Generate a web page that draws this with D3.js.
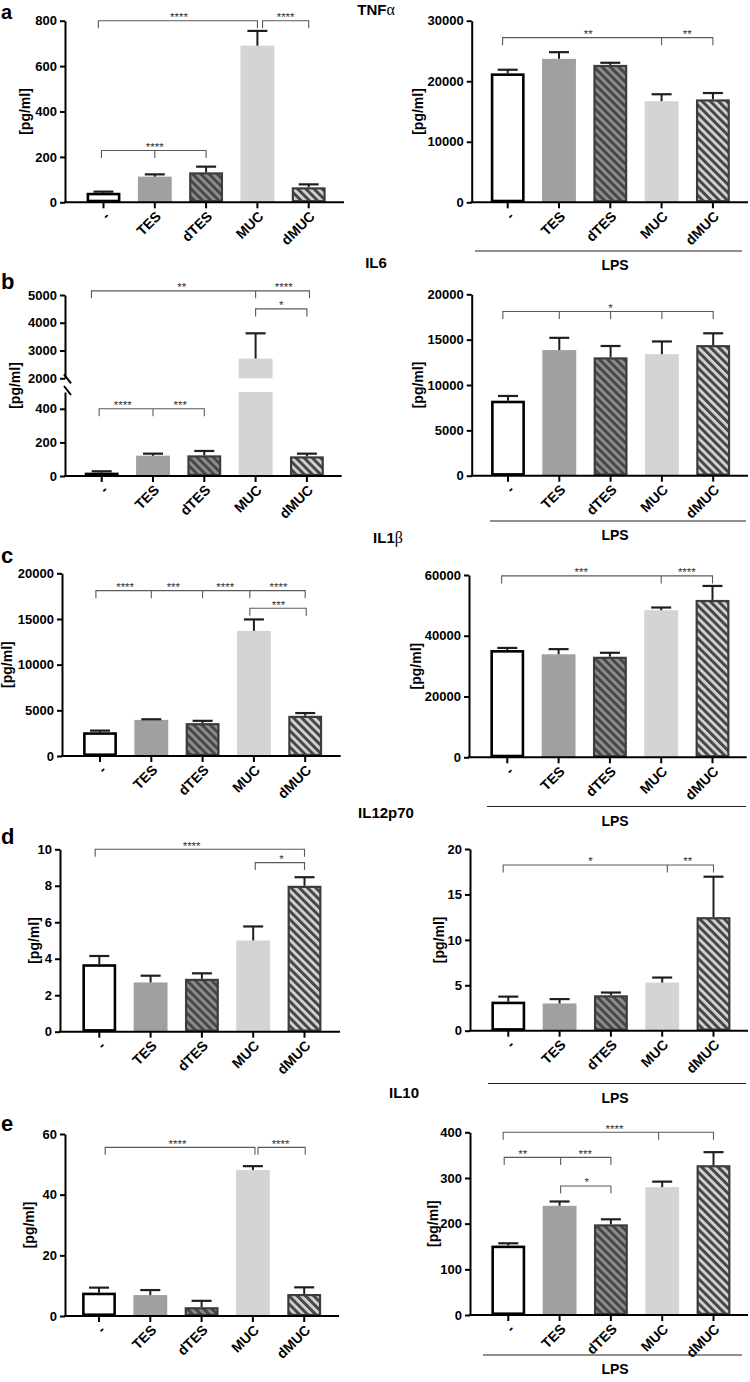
<!DOCTYPE html>
<html><head><meta charset="utf-8">
<script src="https://cdn.jsdelivr.net/npm/d3@7"></script>
<style>
body{margin:0;background:#fff}
svg{display:block}
text{font-family:"Liberation Sans",Arial,sans-serif}
</style>
</head><body>
<script>
// ---------------- DATA ----------------
const categories = ["-", "TES", "dTES", "MUC", "dMUC"];

// TNFα
const tnfUnstim = [42, 113, 132, 690, 66];
const tnfUnstimErr = [5, 10, 25, 65, 13];
const tnfUnstimTicks = [0, 200, 400, 600, 800];
const tnfLps = [21300, 23700, 22700, 16700, 17000];
const tnfLpsErr = [600, 1100, 350, 1150, 1050];
const tnfLpsTicks = [0, 10000, 20000, 30000];

// IL6 (unstimulated panel has a broken axis)
const il6Unstim = [20, 121, 123, 2710, 117];
const il6UnstimErr = [8, 12, 26, 910, 16];
const il6UnstimTicksLow = [0, 200, 400];
const il6UnstimTicksHigh = [2000, 3000, 4000, 5000];
const il6Lps = [8270, 13850, 13050, 13400, 14400];
const il6LpsErr = [520, 1350, 1250, 1400, 1300];
const il6LpsTicks = [0, 5000, 10000, 15000, 20000];

// IL1β
const il1bUnstim = [2600, 3950, 3600, 13700, 4400];
const il1bUnstimErr = [180, 70, 250, 1250, 300];
const il1bUnstimTicks = [0, 5000, 10000, 15000, 20000];
const il1bLps = [35300, 33900, 33100, 48400, 51800];
const il1bLpsErr = [700, 1700, 1300, 900, 4600];
const il1bLpsTicks = [0, 20000, 40000, 60000];

// IL12p70
const il12Unstim = [3.7, 2.7, 2.9, 5.0, 8.0];
const il12UnstimErr = [0.45, 0.37, 0.3, 0.77, 0.47];
const il12UnstimTicks = [0, 2, 4, 6, 8, 10];
const il12Lps = [3.2, 3.0, 3.9, 5.3, 12.5];
const il12LpsErr = [0.55, 0.48, 0.3, 0.55, 4.45];
const il12LpsTicks = [0, 5, 10, 15, 20];

// IL10
const il10Unstim = [7.7, 6.9, 2.9, 48.1, 7.25];
const il10UnstimErr = [1.65, 1.65, 2.1, 1.3, 2.2];
const il10UnstimTicks = [0, 20, 40, 60];
const il10Lps = [152, 239, 198.5, 280, 328];
const il10LpsErr = [5, 9.5, 11, 12, 28.5];
const il10LpsTicks = [0, 100, 200, 300, 400];

// significance brackets: category indices spanned, level (data units), labels [index, text]
const tnfUnstimSig = [
  {pts: [-0.1, 3], level: 800, labels: [[1.47, "****"]]},
  {pts: [3.1, 4], level: 800, labels: [[3.55, "****"]]},
  {pts: [-0.04, 1, 2], level: 228, labels: [[1, "****"]]}
];
const tnfLpsSig = [
  {pts: [-0.1, 3, 4], level: 27200, labels: [[1.57, "**"], [3.5, "**"]]}
];
const il6UnstimSig = [
  {pts: [-0.2, 3, 4.05], level: 5150, labels: [[1.56, "**"], [3.55, "****"]]},
  {pts: [3, 4], level: 4500, labels: [[3.5, "*"]]},
  {pts: [-0.05, 1, 2], level: 400, labels: [[0.41, "****"], [1.53, "***"]]}
];
const il6LpsSig = [
  {pts: [-0.1, 1, 2, 3, 4], level: 18100, labels: [[2, "*"]]}
];
const il1bUnstimSig = [
  {pts: [-0.08, 1, 2, 2.92, 4], level: 18100, labels: [[0.49, "****"], [1.43, "***"], [2.44, "****"], [3.48, "****"]]},
  {pts: [2.92, 4.02], level: 16170, labels: [[3.48, "***"]]}
];
const il1bLpsSig = [
  {pts: [-0.11, 3, 4], level: 59700, labels: [[1.44, "***"], [3.5, "****"]]}
];
const il12UnstimSig = [
  {pts: [-0.08, 4], level: 10, labels: [[1.8, "****"]]},
  {pts: [3.04, 4], level: 9.27, labels: [[3.55, "*"]]}
];
const il12LpsSig = [
  {pts: [-0.1, 3.1, 4], level: 18.24, labels: [[1.6, "*"], [3.5, "**"]]}
];
const il10UnstimSig = [
  {pts: [0.12, 3.04], level: 55.6, labels: [[1.53, "****"]]},
  {pts: [3.1, 4.02], level: 55.6, labels: [[3.54, "****"]]}
];
const il10LpsSig = [
  {pts: [-0.1, 2.93, 4], level: 400, labels: [[2.07, "****"]]},
  {pts: [-0.08, 1.02, 2], level: 345, labels: [[0.28, "**"], [1.5, "***"]]},
  {pts: [1.02, 2], level: 282.5, labels: [[1.53, "*"]]}
];

const yTitle = "[pg/ml]";
const lpsLabel = "LPS";

// ---------------- LAYOUT ----------------
const svg = d3.select("body").append("svg").attr("width", 750).attr("height", 1382);
const defs = svg.append("defs");
function hatch(id, base, stripe) {
  const p = defs.append("pattern").attr("id", id).attr("patternUnits", "userSpaceOnUse")
    .attr("width", 5.8).attr("height", 5.8).attr("patternTransform", "rotate(-45)");
  p.append("rect").attr("width", 5.8).attr("height", 5.8).attr("fill", base);
  p.append("rect").attr("width", 3).attr("height", 5.8).attr("fill", stripe);
}
hatch("hDark", "#8e8e8e", "#474747");
hatch("hLight", "#d4d4d4", "#474747");

const barStyle = [
  {fill: "#ffffff", stroke: "#000", sw: 2.6},
  {fill: "#a0a0a0", stroke: null, sw: 0},
  {fill: "url(#hDark)", stroke: "#3c3c3c", sw: 2.2},
  {fill: "#d4d4d4", stroke: null, sw: 0},
  {fill: "url(#hLight)", stroke: "#3c3c3c", sw: 2.2}
];

const STEP = 51.3;

function drawPanel(p) {
  const g = svg.append("g");
  const x = d3.scaleBand().domain(categories)
    .range([p.c0 - STEP / 2, p.c0 + 4.5 * STEP]).paddingInner(0.34).paddingOuter(0.17);
  const cx = i => x(categories[0]) + x.bandwidth() / 2 + i * x.step();

  const segs = p.segs.map(s => ({
    scale: d3.scaleLinear().domain(s.dom).range(s.rng),
    dom: s.dom, ticks: s.ticks
  }));
  const yv = v => {
    for (const s of segs) if (v <= s.dom[1] + 1e-9 || s === segs[segs.length - 1]) {
      if (v >= s.dom[0] - 1e-9 || s === segs[0]) return s.scale(v);
    }
    return segs[segs.length - 1].scale(v);
  };
  const zeroY = segs[0].scale(0);

  // bars
  categories.forEach((c, i) => {
    const v = p.mean[i], st = barStyle[i];
    segs.forEach(s => {
      if (v <= s.dom[0]) return;
      const top = s.scale(Math.min(v, s.dom[1]));
      const bot = s.scale(s.dom[0]);
      const inset = st.sw / 2;
      g.append("rect")
        .attr("x", x(c) + inset).attr("width", x.bandwidth() - st.sw)
        .attr("y", top + inset).attr("height", Math.max(0, bot - top - st.sw))
        .attr("fill", st.fill)
        .attr("stroke", st.stroke || "none").attr("stroke-width", st.sw);
    });
  });

  // error bars (upper only)
  categories.forEach((c, i) => {
    const v = p.mean[i], e = p.err[i];
    const xc = cx(i);
    const y0 = yv(v), y1 = yv(v + e);
    g.append("line").attr("x1", xc).attr("x2", xc).attr("y1", y0).attr("y2", y1)
      .attr("stroke", "#1e1e1e").attr("stroke-width", 2);
    g.append("line").attr("x1", xc - 10).attr("x2", xc + 10).attr("y1", y1).attr("y2", y1)
      .attr("stroke", "#1e1e1e").attr("stroke-width", 2.2);
  });

  // y axis (one piece per segment)
  segs.forEach(s => {
    const ax = g.append("g").attr("transform", `translate(${p.axisX},0)`)
      .call(d3.axisLeft(s.scale).tickValues(s.ticks).tickSize(5).tickSizeOuter(0).tickPadding(3)
        .tickFormat(d3.format("d")));
    ax.select(".domain").attr("stroke", "#000").attr("stroke-width", 2);
    ax.selectAll(".tick line").attr("stroke", "#000").attr("stroke-width", 2);
    ax.selectAll(".tick text").attr("fill", "#000").style("font-size", "13px")
      .style("font-weight", "bold").style("font-family", '"Liberation Sans",Arial,sans-serif');
  });
  if (segs.length > 1) {
    const yb = segs[1].scale(segs[1].dom[0]);
    const yt = segs[0].scale(segs[0].dom[1]);
    g.append("line").attr("x1", p.axisX - 1).attr("x2", p.axisX + 6).attr("y1", yb - 4).attr("y2", yb + 5)
      .attr("stroke", "#000").attr("stroke-width", 2);
    g.append("line").attr("x1", p.axisX - 1).attr("x2", p.axisX + 6).attr("y1", yt - 6).attr("y2", yt + 3)
      .attr("stroke", "#000").attr("stroke-width", 2);
  }

  // x axis baseline + ticks
  g.append("line").attr("x1", p.axisX - 1).attr("x2", p.axisEnd).attr("y1", zeroY).attr("y2", zeroY)
    .attr("stroke", "#000").attr("stroke-width", 2);
  const xa = g.append("g").attr("transform", `translate(0,${zeroY})`)
    .call(d3.axisBottom(x).tickSize(6).tickSizeOuter(0));
  xa.select(".domain").remove();
  xa.selectAll(".tick line").attr("stroke", "#000").attr("stroke-width", 2);
  xa.selectAll(".tick text").attr("fill", "#000")
    .attr("transform", "translate(7,15) rotate(-45)").attr("x", 0).attr("y", 0).attr("dy", 0)
    .style("text-anchor", "end").style("font-size", "14px").style("font-weight", "bold")
    .style("font-family", '"Liberation Sans",Arial,sans-serif');

  // y title
  const ym = (zeroY + segs[segs.length - 1].scale(segs[segs.length - 1].dom[1])) / 2;
  g.append("text").attr("transform", `translate(${p.labX},${ym}) rotate(-90)`)
    .attr("text-anchor", "middle").attr("dy", "0.35em")
    .style("font-size", "14px").style("font-weight", "bold").text(yTitle);

  // significance brackets
  p.sig.forEach(b => {
    const ly = yv(b.level);
    const xs = b.pts.map(cx);
    const drop = 7.5;
    let d = `M${xs[0]},${ly + drop}V${ly}H${xs[xs.length - 1]}V${ly + drop}`;
    xs.slice(1, -1).forEach(xm => { d += `M${xm},${ly}V${ly + drop}`; });
    g.append("path").attr("d", d).attr("fill", "none").attr("stroke", "#5a5a5a").attr("stroke-width", 1.1);
    b.labels.forEach(([at, t]) => {
      g.append("text").attr("x", cx(at)).attr("y", ly + 0.5).attr("text-anchor", "middle")
        .style("font-size", "11.5px").attr("fill", "#333").text(t);
    });
  });

  // LPS underline
  if (p.lps) {
    g.append("line").attr("x1", p.lps.x1).attr("x2", p.lps.x2).attr("y1", p.lps.y).attr("y2", p.lps.y)
      .attr("stroke", "#222").attr("stroke-width", 1.2);
    g.append("text").attr("x", 615).attr("y", p.lps.y + 19).attr("text-anchor", "middle")
      .style("font-size", "14px").style("font-weight", "bold").text(lpsLabel);
  }
}

function single(ticks, zeroY, topY) {
  return [{dom: [0, ticks[ticks.length - 1]], rng: [zeroY, topY], ticks}];
}

const panels = [
  {mean: tnfUnstim, err: tnfUnstimErr, sig: tnfUnstimSig, segs: single(tnfUnstimTicks, 202.3, 20.7),
   axisX: 65, c0: 103.5, axisEnd: 344, labX: 25},
  {mean: tnfLps, err: tnfLpsErr, sig: tnfLpsSig, segs: single(tnfLpsTicks, 202.3, 20.7),
   axisX: 471.7, c0: 507.7, axisEnd: 748, labX: 418, lps: {x1: 475, x2: 742, y: 251}},
  {mean: il6Unstim, err: il6UnstimErr, sig: il6UnstimSig,
   segs: [{dom: [0, 500], rng: [476, 392], ticks: il6UnstimTicksLow},
          {dom: [2000, 5000], rng: [378.3, 295], ticks: il6UnstimTicksHigh}],
   axisX: 65, c0: 101.7, axisEnd: 341.7, labX: 15},
  {mean: il6Lps, err: il6LpsErr, sig: il6LpsSig, segs: single(il6LpsTicks, 475.7, 294.3),
   axisX: 471.7, c0: 508, axisEnd: 748, labX: 418, lps: {x1: 490, x2: 746, y: 521}},
  {mean: il1bUnstim, err: il1bUnstimErr, sig: il1bUnstimSig, segs: single(il1bUnstimTicks, 756, 573.3),
   axisX: 62, c0: 100, axisEnd: 340.7, labX: 7.5},
  {mean: il1bLps, err: il1bLpsErr, sig: il1bLpsSig, segs: single(il1bLpsTicks, 757.3, 575),
   axisX: 469, c0: 507.3, axisEnd: 746.7, labX: 416, lps: {x1: 487, x2: 746, y: 806.5}},
  {mean: il12Unstim, err: il12UnstimErr, sig: il12UnstimSig, segs: single(il12UnstimTicks, 1031.7, 849.3),
   axisX: 60, c0: 99.3, axisEnd: 340, labX: 34},
  {mean: il12Lps, err: il12LpsErr, sig: il12LpsSig, segs: single(il12LpsTicks, 1030.7, 849),
   axisX: 470, c0: 508.3, axisEnd: 748, labX: 439, lps: {x1: 488, x2: 746, y: 1083.5}},
  {mean: il10Unstim, err: il10UnstimErr, sig: il10UnstimSig, segs: single(il10UnstimTicks, 1316, 1134),
   axisX: 65, c0: 99, axisEnd: 339, labX: 29},
  {mean: il10Lps, err: il10LpsErr, sig: il10LpsSig, segs: single(il10LpsTicks, 1315, 1132.3),
   axisX: 470, c0: 508.3, axisEnd: 748, labX: 433, lps: {x1: 483, x2: 742, y: 1355}}
];
panels.forEach(drawPanel);

// panel letters
const letters = [["a", 18.5, 20], ["b", 289, 22], ["c", 563, 22], ["d", 844, 22], ["e", 1131, 22]];
letters.forEach(([t, y, fs]) => svg.append("text").attr("x", 1).attr("y", y)
  .style("font-size", fs + "px").style("font-weight", "bold").text(t));

// titles
const titles = [
  {main: "TNF", greek: "α", x: 376, y: 14.5},
  {main: "IL6", greek: "", x: 376, y: 268},
  {main: "IL1", greek: "β", x: 388, y: 543},
  {main: "IL12p70", greek: "", x: 386, y: 818},
  {main: "IL10", greek: "", x: 404, y: 1098}
];
titles.forEach(t => {
  const tx = svg.append("text").attr("x", t.x).attr("y", t.y).attr("text-anchor", "middle")
    .style("font-size", "15px").style("font-weight", "bold");
  tx.append("tspan").text(t.main);
  if (t.greek) tx.append("tspan").style("font-family", '"Liberation Serif","DejaVu Serif",serif')
    .style("font-weight", "normal").style("font-size", "16px").text(t.greek);
});
</script>
</body></html>
